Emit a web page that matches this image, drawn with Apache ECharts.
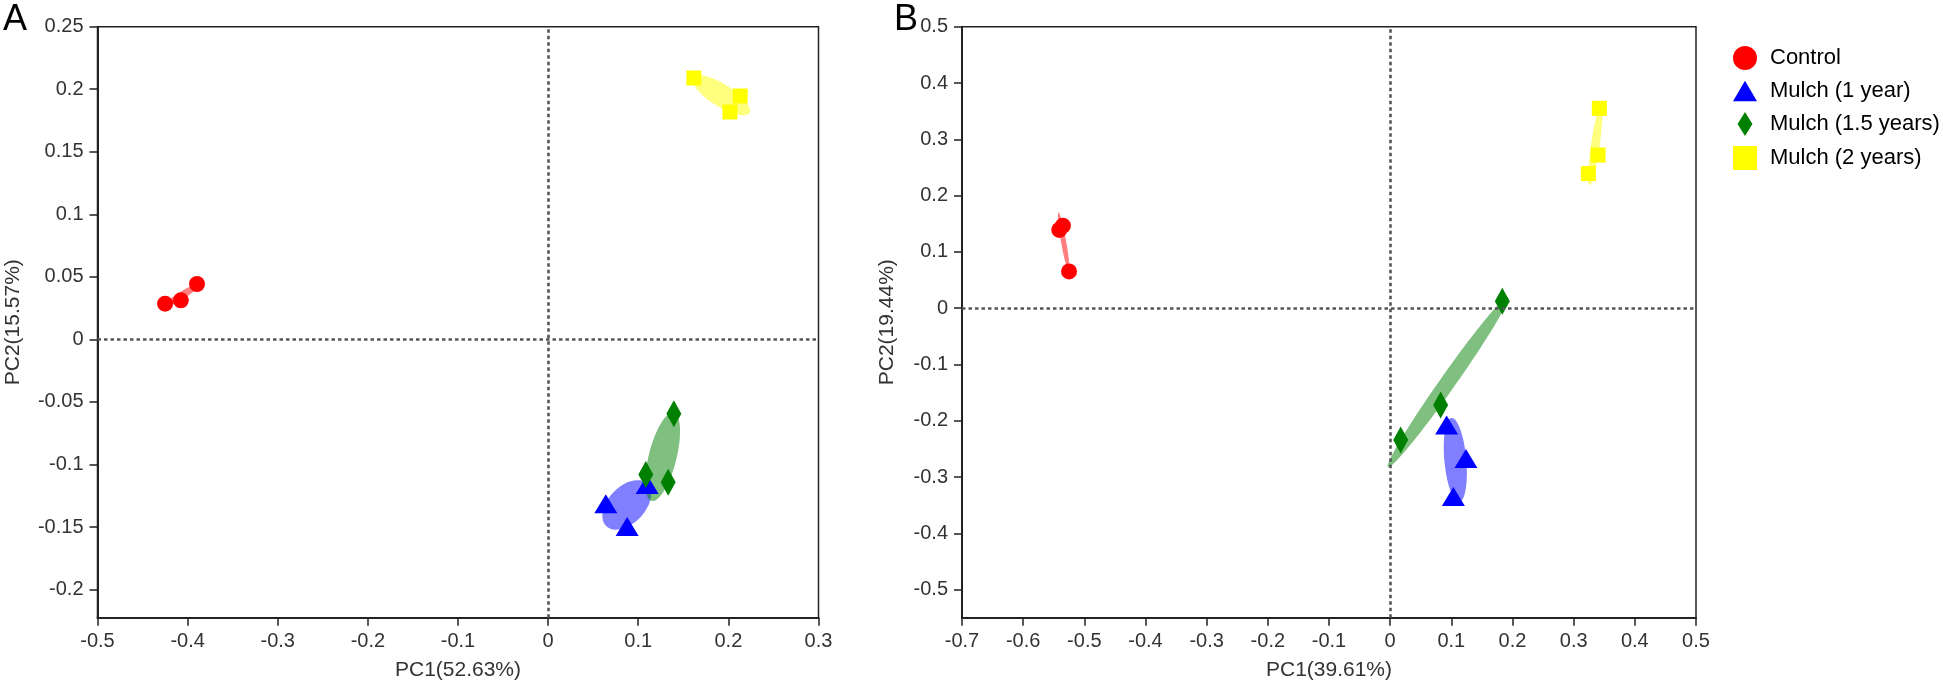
<!DOCTYPE html>
<html>
<head>
<meta charset="utf-8">
<script src="https://cdn.jsdelivr.net/npm/echarts@6/dist/echarts.min.js"></script>
<style>
html,body{margin:0;padding:0;background:#fff;}
#chart{width:1943px;height:688px;}
</style>
</head>
<body>
<div id="chart"></div>
<script>
// ---------- data ----------
const groupNames = ['Control', 'Mulch (1 year)', 'Mulch (1.5 years)', 'Mulch (2 years)'];

// Panel A  [PC1, PC2]
const aControl = [[-0.425, 0.0286], [-0.4075, 0.0312], [-0.3896, 0.0443]];
const aMulch1 = [[0.064, -0.1314], [0.0877, -0.1496], [0.1099, -0.116]];
const aMulch15 = [[0.1395, -0.0594], [0.1084, -0.108], [0.1332, -0.1142]];
const aMulch2 = [[0.1617, 0.209], [0.2131, 0.1946], [0.2017, 0.1818]];

// Panel B  [PC1, PC2]
const bControl = [[-0.541, 0.139], [-0.535, 0.1465], [-0.525, 0.0652]];
const bMulch1 = [[0.0923, -0.2078], [0.1239, -0.267], [0.1033, -0.3345]];
const bMulch15 = [[0.0172, -0.2345], [0.0825, -0.1723], [0.1833, 0.0124]];
const bMulch2 = [[0.342, 0.355], [0.340, 0.272], [0.324, 0.239]];

// Tick labels
const aXTicks = [-0.5, -0.4, -0.3, -0.2, -0.1, 0, 0.1, 0.2, 0.3];
const aYTicks = [-0.2, -0.15, -0.1, -0.05, 0, 0.05, 0.1, 0.15, 0.2, 0.25];
const bXTicks = [-0.7, -0.6, -0.5, -0.4, -0.3, -0.2, -0.1, 0, 0.1, 0.2, 0.3, 0.4, 0.5];
const bYTicks = [-0.5, -0.4, -0.3, -0.2, -0.1, 0, 0.1, 0.2, 0.3, 0.4, 0.5];

// Axis titles
const aXName = 'PC1(52.63%)', aYName = 'PC2(15.57%)';
const bXName = 'PC1(39.61%)', bYName = 'PC2(19.44%)';

// ---------- styles ----------
const colors = ['#ff0000', '#0000ff', '#008000', '#ffff00'];
const fills = ['rgba(255,0,0,0.5)', 'rgba(0,0,255,0.5)', 'rgba(0,128,0,0.5)', 'rgba(255,255,0,0.5)'];
const symbols = ['circle', 'triangle', 'path://M9,0 L18,14.5 L9,29 L0,14.5 Z', 'rect'];
const symbolSizes = [16, [23, 19], [15, 27], 15];
const FONT = "'Liberation Sans', Arial, Helvetica, sans-serif";

// 50% confidence ellipse from sample covariance
function confEllipse(pts, k, n) {
  const m = pts.length;
  let mx = 0, my = 0;
  pts.forEach(p => { mx += p[0]; my += p[1]; });
  mx /= m; my /= m;
  let sxx = 0, syy = 0, sxy = 0;
  pts.forEach(p => {
    const dx = p[0] - mx, dy = p[1] - my;
    sxx += dx * dx; syy += dy * dy; sxy += dx * dy;
  });
  sxx /= (m - 1); syy /= (m - 1); sxy /= (m - 1);
  const tr = (sxx + syy) / 2;
  const d = Math.sqrt(((sxx - syy) / 2) ** 2 + sxy * sxy);
  const l1 = tr + d, l2 = Math.max(tr - d, 0);
  const th = 0.5 * Math.atan2(2 * sxy, sxx - syy);
  const a = k * Math.sqrt(l1), b = k * Math.sqrt(l2);
  const out = [];
  for (let i = 0; i < n; i++) {
    const t = 2 * Math.PI * i / n;
    const ct = Math.cos(t), st = Math.sin(t);
    out.push([
      mx + a * ct * Math.cos(th) - b * st * Math.sin(th),
      my + a * ct * Math.sin(th) + b * st * Math.cos(th)
    ]);
  }
  return { center: [mx, my], poly: out };
}
const K = Math.sqrt(-2 * Math.log(0.5));

function panelSeries(groups, idx) {
  const ells = groups.map(g => confEllipse(g, K, 90));
  const list = [];
  list.push({
    type: 'custom',
    name: 'ellipse' + idx,
    xAxisIndex: idx, yAxisIndex: idx,
    z: 1,
    silent: true,
    data: ells.map(e => e.center),
    renderItem: function (params, api) {
      const e = ells[params.dataIndex];
      return {
        type: 'polygon',
        shape: { points: e.poly.map(p => api.coord(p)) },
        style: { fill: fills[params.dataIndex], stroke: null }
      };
    }
  });
  list.push({
    type: 'line',
    name: 'ref' + idx,
    xAxisIndex: idx, yAxisIndex: idx,
    data: [],
    z: 2,
    markLine: {
      silent: true,
      symbol: ['none', 'none'],
      label: { show: false },
      lineStyle: { color: '#555555', width: 2.6, type: [3.5, 3] },
      emphasis: { disabled: true },
      data: [{ xAxis: 0 }, { yAxis: 0 }]
    }
  });
  groups.forEach((g, i) => {
    list.push({
      type: 'scatter',
      name: groupNames[i],
      xAxisIndex: idx, yAxisIndex: idx,
      z: 3,
      symbol: symbols[i],
      symbolSize: symbolSizes[i],
      itemStyle: { color: colors[i], opacity: 1 },
      data: g
    });
  });
  return list;
}

function xAxisCfg(idx, min, max, ticks, name) {
  return {
    type: 'value', gridIndex: idx, min: min, max: max,
    name: name, nameLocation: 'middle', nameGap: 42,
    nameTextStyle: { fontSize: 21, color: '#333', fontFamily: FONT },
    axisLine: { show: true, onZero: false, lineStyle: { color: '#222', width: 2 } },
    axisTick: { show: true, length: 8, customValues: ticks, lineStyle: { color: '#222', width: 1.5 } },
    axisLabel: { customValues: ticks, fontSize: 20, color: '#333', margin: 14, fontFamily: FONT,
      formatter: v => String(v) },
    splitLine: { show: false }
  };
}
function yAxisCfg(idx, min, max, ticks, name, gap) {
  return {
    type: 'value', gridIndex: idx, min: min, max: max,
    name: name, nameLocation: 'middle', nameGap: gap,
    nameTextStyle: { fontSize: 21, color: '#333', fontFamily: FONT },
    axisLine: { show: true, onZero: false, lineStyle: { color: '#222', width: 2 } },
    axisTick: { show: true, length: 8, customValues: ticks, lineStyle: { color: '#222', width: 1.5 } },
    axisLabel: { customValues: ticks, fontSize: 20, color: '#333', margin: 14, fontFamily: FONT,
      formatter: v => String(v) },
    splitLine: { show: false }
  };
}

const chart = echarts.init(document.getElementById('chart'), null, { renderer: 'canvas' });
const option = {
  animation: false,
  backgroundColor: '#fff',
  textStyle: { fontFamily: FONT },
  grid: [
    { left: 97.5, top: 26.7, width: 721, height: 591, show: true, borderColor: '#222', borderWidth: 1.5, containLabel: false },
    { left: 962, top: 26.7, width: 734, height: 591, show: true, borderColor: '#222', borderWidth: 1.5, containLabel: false }
  ],
  xAxis: [
    xAxisCfg(0, -0.5, 0.3, aXTicks, aXName),
    xAxisCfg(1, -0.7, 0.5, bXTicks, bXName)
  ],
  yAxis: [
    yAxisCfg(0, -0.2225, 0.25, aYTicks, aYName, 74),
    yAxisCfg(1, -0.55, 0.5, bYTicks, bYName, 64)
  ],
  legend: {
    orient: 'vertical',
    left: 1728, top: 41,
    itemWidth: 24, itemHeight: 24, itemGap: 10,
    textStyle: { fontSize: 22, color: '#000', fontFamily: FONT, padding: [0, 0, 0, 8] },
    data: [
      { name: groupNames[0], icon: 'circle' },
      { name: groupNames[1], icon: 'path://M13,0 L26,22 L0,22 Z' },
      { name: groupNames[2], icon: 'path://M9,0 L18,14.5 L9,29 L0,14.5 Z' },
      { name: groupNames[3], icon: 'rect' }
    ]
  },
  graphic: [
    { type: 'text', left: 3, top: 2, style: { text: 'A', fontSize: 36, fill: '#000', fontFamily: FONT } },
    { type: 'text', left: 894, top: 2, style: { text: 'B', fontSize: 36, fill: '#000', fontFamily: FONT } }
  ],
  series: [
    ...panelSeries([aControl, aMulch1, aMulch15, aMulch2], 0),
    ...panelSeries([bControl, bMulch1, bMulch15, bMulch2], 1)
  ]
};
chart.setOption(option);
</script>
</body>
</html>
